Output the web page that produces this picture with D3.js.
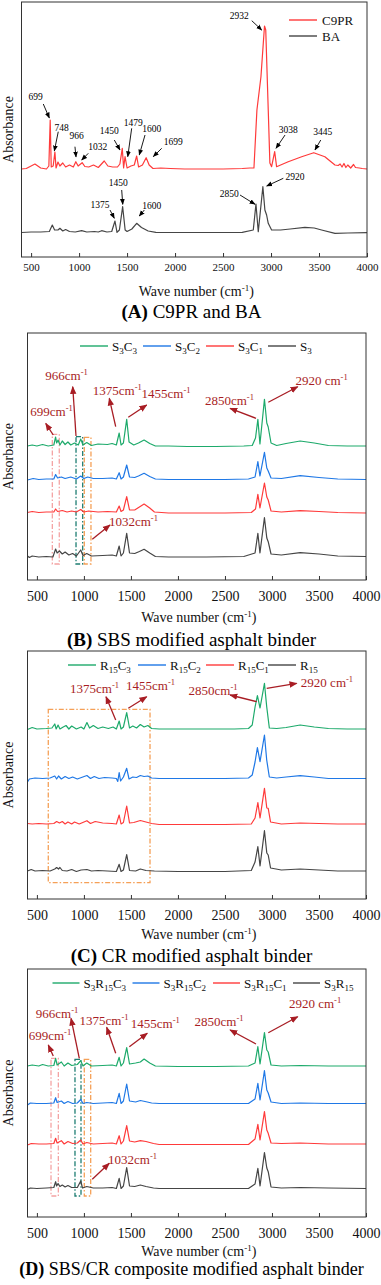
<!DOCTYPE html>
<html>
<head>
<meta charset="utf-8" />
<title>FTIR spectra</title>
<script src="https://cdn.jsdelivr.net/npm/d3@7"></script>
<style>
    html, body { margin: 0; padding: 0; background: #fff; }
    svg { display: block; }
</style>
</head>
<body>
<div id="chart"></div>
<script>
// shared x ticks (wave number, cm-1)
var waveTicks = [500, 1000, 1500, 2000, 2500, 3000, 3500, 4000];

// ---- (A) C9PR and BA : [wave number, absorbance (a.u.)]
var c9pr = [[400,0.88],[450,0.885],[540,0.93],[600,0.89],[660,0.88],[685,0.91],[699,1.37],[710,0.90],[730,0.91],[748,1.05],[760,0.89],[780,0.95],[800,0.91],[830,0.94],[860,0.90],[900,0.92],[940,0.90],[966,0.953],[990,0.91],[1032,0.943],[1060,0.905],[1100,0.90],[1150,0.92],[1200,0.895],[1262,0.96],[1300,0.91],[1350,0.90],[1400,0.90],[1425,0.93],[1450,1.087],[1464,0.89],[1479,1.003],[1500,0.89],[1540,0.91],[1575,0.92],[1600,1.01],[1620,0.90],[1660,0.92],[1699,0.993],[1730,0.92],[1770,0.885],[1850,0.89],[1950,0.885],[2100,0.88],[2300,0.88],[2500,0.88],[2700,0.885],[2780,0.89],[2822,0.89],[2853,1.47],[2895,1.803],[2932,2.31],[2945,2.27],[2971,1.47],[2988,0.94],[3006,0.903],[3038,1.053],[3058,0.903],[3100,0.92],[3179,0.953],[3319,1.003],[3445,1.043],[3561,1.003],[3666,0.92],[3700,0.915],[3720,0.93],[3740,0.90],[3760,0.935],[3780,0.895],[3800,0.92],[3830,0.89],[3860,0.925],[3880,0.895],[3920,0.89],[3950,0.885],[4000,0.88]];
var ba = [[400,0.245],[500,0.25],[600,0.25],[690,0.255],[721,0.32],[745,0.27],[780,0.27],[800,0.287],[830,0.26],[860,0.275],[900,0.255],[960,0.25],[1027,0.263],[1080,0.25],[1160,0.255],[1200,0.25],[1235,0.263],[1290,0.25],[1340,0.255],[1374,0.36],[1395,0.247],[1420,0.27],[1454,0.503],[1480,0.27],[1500,0.255],[1550,0.28],[1600,0.337],[1650,0.295],[1720,0.26],[1800,0.247],[2000,0.245],[2400,0.245],[2700,0.247],[2815,0.27],[2843,0.53],[2867,0.253],[2915,0.703],[2936,0.47],[2954,0.42],[2971,0.337],[3006,0.27],[3100,0.27],[3200,0.28],[3353,0.297],[3450,0.29],[3527,0.27],[3666,0.237],[3800,0.24],[4000,0.243]];

// ---- (B) SBS modified asphalt binder
var s3c3 = [[400,1.34],[450,1.35],[500,1.34],[560,1.355],[620,1.34],[680,1.35],[699,1.43],[710,1.37],[725,1.40],[745,1.35],[770,1.39],[800,1.355],[830,1.38],[860,1.35],[900,1.37],[940,1.35],[966,1.41],[990,1.35],[1030,1.375],[1080,1.345],[1150,1.36],[1250,1.355],[1300,1.365],[1345,1.35],[1375,1.47],[1395,1.35],[1420,1.37],[1455,1.607],[1480,1.38],[1530,1.35],[1580,1.37],[1640,1.40],[1700,1.365],[1760,1.34],[1900,1.34],[2100,1.335],[2400,1.335],[2700,1.34],[2790,1.345],[2825,1.42],[2850,1.607],[2872,1.36],[2920,1.807],[2945,1.57],[2960,1.53],[2990,1.37],[3050,1.345],[3150,1.365],[3300,1.39],[3450,1.37],[3600,1.345],[3800,1.34],[4000,1.34]];
var s3c2 = [[400,1.00],[460,1.015],[520,1.005],[600,1.01],[680,1.01],[699,1.055],[720,1.02],[760,1.03],[800,1.015],[860,1.03],[920,1.01],[966,1.04],[1000,1.015],[1040,1.03],[1100,1.015],[1200,1.015],[1300,1.02],[1345,1.01],[1375,1.073],[1395,1.01],[1420,1.03],[1455,1.15],[1485,1.03],[1540,1.025],[1580,1.04],[1640,1.067],[1700,1.035],[1760,1.01],[1900,1.005],[2200,1.005],[2500,1.005],[2750,1.01],[2820,1.03],[2850,1.183],[2872,1.04],[2920,1.277],[2945,1.12],[2960,1.09],[2990,1.02],[3100,1.015],[3300,1.043],[3500,1.025],[3700,1.01],[4000,1.005]];
var s3c1 = [[400,0.675],[450,0.685],[520,0.675],[600,0.68],[680,0.68],[699,0.71],[720,0.685],[770,0.695],[820,0.68],[870,0.69],[920,0.68],[966,0.705],[1000,0.68],[1050,0.69],[1150,0.68],[1250,0.685],[1345,0.68],[1375,0.74],[1395,0.685],[1420,0.70],[1455,0.833],[1485,0.70],[1540,0.70],[1590,0.73],[1640,0.76],[1700,0.72],[1750,0.68],[1900,0.67],[2200,0.67],[2500,0.67],[2780,0.675],[2825,0.71],[2850,0.857],[2872,0.72],[2920,0.97],[2945,0.83],[2960,0.80],[2990,0.69],[3100,0.68],[3300,0.693],[3500,0.685],[3700,0.675],[4000,0.67]];
var s3 = [[400,0.24],[420,0.225],[450,0.24],[520,0.23],[600,0.235],[670,0.23],[699,0.31],[715,0.27],[740,0.29],[770,0.26],[800,0.28],[840,0.25],[880,0.265],[920,0.24],[966,0.30],[990,0.245],[1030,0.265],[1080,0.24],[1200,0.245],[1300,0.25],[1345,0.24],[1375,0.34],[1395,0.24],[1420,0.27],[1455,0.467],[1485,0.27],[1540,0.265],[1590,0.285],[1640,0.307],[1700,0.27],[1760,0.235],[1900,0.23],[2300,0.23],[2700,0.235],[2820,0.27],[2850,0.467],[2872,0.27],[2920,0.623],[2945,0.42],[2960,0.383],[2990,0.26],[3100,0.25],[3300,0.273],[3500,0.26],[3700,0.24],[4000,0.235]];

// ---- (C) CR modified asphalt binder
var r15c3 = [[400,1.695],[450,1.715],[500,1.70],[600,1.705],[660,1.71],[690,1.75],[705,1.70],[725,1.74],[745,1.70],[780,1.72],[810,1.735],[840,1.70],[870,1.73],[920,1.70],[970,1.72],[1000,1.70],[1032,1.765],[1060,1.71],[1100,1.735],[1150,1.705],[1200,1.72],[1260,1.705],[1310,1.72],[1345,1.70],[1375,1.78],[1395,1.70],[1420,1.72],[1455,1.863],[1485,1.71],[1520,1.73],[1560,1.71],[1600,1.745],[1640,1.72],[1680,1.735],[1720,1.705],[1800,1.70],[2000,1.70],[2300,1.70],[2600,1.70],[2750,1.705],[2790,1.74],[2820,1.92],[2845,2.033],[2873,1.91],[2920,2.157],[2944,1.923],[2972,1.71],[3050,1.705],[3150,1.715],[3300,1.74],[3450,1.72],[3600,1.705],[3800,1.70],[4000,1.70]];
var r15c2 = [[400,1.17],[420,1.20],[480,1.21],[560,1.205],[640,1.21],[690,1.23],[710,1.20],[730,1.23],[760,1.20],[800,1.225],[840,1.205],[880,1.22],[930,1.20],[1032,1.235],[1070,1.205],[1110,1.225],[1160,1.205],[1220,1.215],[1300,1.21],[1345,1.205],[1360,1.175],[1375,1.263],[1390,1.18],[1420,1.22],[1455,1.307],[1480,1.20],[1520,1.22],[1560,1.215],[1600,1.235],[1640,1.225],[1680,1.23],[1720,1.21],[1800,1.205],[2100,1.205],[2500,1.205],[2750,1.21],[2790,1.24],[2820,1.37],[2845,1.513],[2873,1.373],[2920,1.64],[2944,1.39],[2972,1.22],[3050,1.21],[3150,1.22],[3300,1.233],[3450,1.22],[3600,1.205],[3800,1.205],[4000,1.205]];
var r15c1 = [[400,0.755],[450,0.75],[520,0.755],[600,0.75],[680,0.755],[710,0.775],[740,0.76],[770,0.775],[800,0.75],[830,0.77],[870,0.75],[900,0.77],[950,0.75],[1032,0.783],[1070,0.755],[1120,0.775],[1200,0.76],[1300,0.755],[1345,0.75],[1375,0.84],[1395,0.75],[1420,0.765],[1455,0.93],[1485,0.76],[1530,0.765],[1600,0.785],[1660,0.77],[1720,0.755],[1800,0.745],[2100,0.745],[2500,0.745],[2780,0.75],[2820,0.81],[2850,0.963],[2873,0.81],[2920,1.107],[2945,0.91],[2960,0.907],[2985,0.77],[3100,0.75],[3300,0.76],[3500,0.755],[3700,0.75],[4000,0.75]];
var r15 = [[400,0.28],[440,0.295],[480,0.28],[560,0.285],[640,0.28],[690,0.30],[710,0.315],[730,0.30],[745,0.315],[770,0.285],[820,0.28],[870,0.295],[920,0.275],[970,0.29],[1032,0.295],[1080,0.28],[1150,0.285],[1250,0.28],[1345,0.275],[1375,0.347],[1395,0.275],[1420,0.29],[1455,0.443],[1485,0.285],[1550,0.28],[1600,0.30],[1660,0.285],[1750,0.28],[2000,0.275],[2500,0.275],[2780,0.285],[2820,0.37],[2850,0.523],[2873,0.33],[2920,0.683],[2945,0.46],[2960,0.44],[2985,0.31],[3100,0.29],[3300,0.30],[3500,0.29],[3700,0.28],[4000,0.28]];

// ---- (D) SBS/CR composite modified asphalt binder
var s3r15c3 = [[400,1.51],[450,1.52],[520,1.51],[560,1.525],[620,1.51],[680,1.515],[699,1.587],[715,1.52],[760,1.55],[790,1.51],[830,1.54],[870,1.515],[930,1.525],[966,1.563],[990,1.51],[1030,1.54],[1080,1.51],[1200,1.515],[1300,1.52],[1345,1.51],[1375,1.597],[1395,1.51],[1420,1.54],[1455,1.693],[1485,1.53],[1550,1.54],[1600,1.55],[1640,1.58],[1700,1.54],[1760,1.51],[2000,1.505],[2400,1.505],[2750,1.51],[2820,1.54],[2850,1.703],[2873,1.53],[2920,1.843],[2945,1.67],[2960,1.65],[2990,1.52],[3100,1.51],[3300,1.515],[3600,1.51],[4000,1.51]];
var s3r15c2 = [[400,1.12],[430,1.14],[500,1.135],[600,1.135],[680,1.14],[699,1.193],[715,1.145],[760,1.16],[790,1.135],[830,1.155],[880,1.135],[930,1.14],[966,1.175],[990,1.135],[1030,1.145],[1100,1.135],[1200,1.14],[1300,1.145],[1345,1.135],[1375,1.237],[1395,1.135],[1420,1.16],[1455,1.33],[1485,1.16],[1550,1.15],[1600,1.165],[1650,1.155],[1720,1.14],[1800,1.135],[2400,1.135],[2750,1.135],[2820,1.18],[2850,1.337],[2873,1.17],[2920,1.463],[2945,1.27],[2960,1.24],[2990,1.15],[3100,1.135],[3300,1.14],[3600,1.135],[4000,1.135]];
var s3r15c1 = [[400,0.72],[440,0.735],[520,0.73],[600,0.73],[680,0.735],[699,0.787],[715,0.74],[760,0.763],[790,0.73],[830,0.755],[880,0.735],[930,0.74],[966,0.77],[990,0.73],[1030,0.745],[1100,0.73],[1200,0.735],[1300,0.74],[1345,0.73],[1375,0.813],[1395,0.73],[1420,0.76],[1455,0.913],[1485,0.76],[1540,0.75],[1600,0.763],[1660,0.755],[1740,0.735],[1800,0.725],[2400,0.725],[2750,0.725],[2820,0.78],[2850,0.927],[2873,0.77],[2920,1.053],[2945,0.87],[2960,0.837],[2990,0.74],[3100,0.735],[3300,0.74],[3600,0.73],[4000,0.73]];
var s3r15 = [[400,0.275],[430,0.29],[500,0.285],[600,0.29],[680,0.295],[699,0.353],[710,0.31],[725,0.335],[745,0.305],[770,0.32],[800,0.30],[830,0.315],[870,0.295],[930,0.295],[966,0.36],[985,0.29],[1030,0.305],[1100,0.29],[1200,0.29],[1300,0.295],[1345,0.285],[1375,0.387],[1395,0.285],[1420,0.31],[1455,0.493],[1485,0.31],[1540,0.305],[1600,0.32],[1660,0.305],[1740,0.29],[1800,0.285],[2400,0.285],[2750,0.285],[2820,0.33],[2850,0.487],[2873,0.31],[2920,0.643],[2945,0.49],[2960,0.453],[2990,0.30],[3100,0.29],[3300,0.295],[3600,0.29],[4000,0.285]];

// annotations: [label, text wn, text abs, arrow-from wn, abs, arrow-to wn, abs]
var annoA = [
    ["699", 548, 1.603, 627, 1.53, 690, 1.39],
    ["748", 819, 1.293, 783, 1.253, 742, 1.06],
    ["966", 975, 1.21, 957, 1.103, 968, 1.0],
    ["1032", 1194, 1.103, 1096, 1.037, 1027, 0.97],
    ["1450", 1315, 1.263, 1367, 1.17, 1426, 1.07],
    ["1479", 1565, 1.343, 1548, 1.287, 1507, 1.003],
    ["1600", 1757, 1.287, 1687, 1.22, 1627, 1.02],
    ["1699", 1982, 1.153, 1861, 1.087, 1773, 1.003],
    ["2932", 2669, 2.41, 2799, 2.363, 2903, 2.27],
    ["3038", 3180, 1.27, 3146, 1.22, 3052, 1.087],
    ["3445", 3539, 1.253, 3518, 1.17, 3458, 1.07],
    ["1375", 1218, 0.527, 1322, 0.47, 1367, 0.387],
    ["1450", 1409, 0.747, 1444, 0.67, 1455, 0.527],
    ["1600", 1757, 0.51, 1680, 0.47, 1627, 0.41],
    ["2850", 2565, 0.637, 2677, 0.62, 2833, 0.527],
    ["2920", 3250, 0.803, 3128, 0.787, 2955, 0.71]
];
var annoB = [
    ["966cm-1", 815, 2.05, 916, 1.44, 881, 1.933],
    ["699cm-1", 655, 1.683, 674, 1.45, 594, 1.567],
    ["1375cm-1", 1355, 1.90, 1338, 1.533, 1270, 1.817],
    ["1455cm-1", 1873, 1.867, 1472, 1.627, 1668, 1.75],
    ["2850cm-1", 2548, 1.80, 2830, 1.617, 2554, 1.717],
    ["2920 cm-1", 3527, 2.00, 2961, 1.777, 3274, 1.933],
    ["1032cm-1", 1527, 0.583, 1089, 0.407, 1277, 0.55]
];
var annoC = [
    ["1375cm-1", 1113, 2.107, 1338, 1.79, 1235, 2.023],
    ["1455cm-1", 1708, 2.14, 1472, 1.907, 1668, 2.023],
    ["2850cm-1", 2373, 2.09, 2838, 1.973, 2554, 2.04],
    ["2920 cm-1", 3585, 2.163, 2944, 2.107, 3263, 2.157]
];
var annoD = [
    ["966cm-1", 714, 2.037, 951, 1.587, 863, 1.987],
    ["699cm-1", 639, 1.82, 674, 1.61, 621, 1.72],
    ["1375cm-1", 1214, 1.97, 1338, 1.637, 1242, 1.897],
    ["1455cm-1", 1759, 1.937, 1483, 1.703, 1674, 1.837],
    ["2850cm-1", 2437, 1.953, 2830, 1.73, 2554, 1.87],
    ["2920 cm-1", 3458, 2.137, 2961, 1.843, 3274, 2.003],
    ["1032cm-1", 1517, 0.577, 1089, 0.377, 1270, 0.537]
];

// highlighted bands: [wn from, wn to, abs top, abs bottom, colour key]
var bandsB = [[664, 738, 1.457, 0.16, "pink"], [916, 987, 1.433, 0.16, "teal"], [1004, 1075, 1.427, 0.16, "orange"]];
var bandsC = [[621, 1703, 1.897, 0.163, "orange"]];
var bandsD = [[650, 728, 1.587, 0.21, "pink"], [905, 969, 1.577, 0.21, "teal"], [1004, 1072, 1.577, 0.21, "orange"]];

var colors = {
    red: "#ff3a3a", gray: "#454545", green: "#1daa6b", blue: "#1f78e6",
    note: "#a81d24", pink: "#f4a3a3", teal: "#1d7d72", orange: "#f5a057"
};

var serif = "'Liberation Serif', 'Times New Roman', Times, serif";
var W = 381, H = 1285;
var svg = d3.select("#chart").append("svg")
    .attr("width", W).attr("height", H)
    .attr("font-family", serif);
var defs = svg.append("defs");

function addMarker(id, color, size) {
    defs.append("marker")
        .attr("id", id)
        .attr("viewBox", "0 0 10 10")
        .attr("refX", 9).attr("refY", 5)
        .attr("markerWidth", size).attr("markerHeight", size)
        .attr("markerUnits", "userSpaceOnUse")
        .attr("orient", "auto")
        .append("path")
        .attr("d", "M0,1 L10,5 L0,9 Z")
        .attr("fill", color);
}
addMarker("headBlack", "#000", 6);
addMarker("headRed", colors.note, 8);

// text with "-1" as superscript
function supText(t, str, supSize, shift) {
    var m = str.match(/^(.*?)(-1)(.*)$/);
    if (!m) { t.text(str); return; }
    t.append("tspan").text(m[1]);
    t.append("tspan").attr("dy", -shift).attr("font-size", supSize).text(m[2]);
    if (m[3]) t.append("tspan").attr("dy", shift).text(m[3]);
}

// legend names like S3R15C1 -> digits as subscripts
function subText(t, str) {
    var parts = str.match(/[A-Za-z]+|\d+/g);
    var down = false;
    parts.forEach(function(s) {
        if (/^\d+$/.test(s)) {
            t.append("tspan").attr("dy", down ? 0 : 3).attr("font-size", 9).text(s);
            down = true;
        } else {
            t.append("tspan").attr("dy", down ? -3 : 0).text(s);
            down = false;
        }
    });
}

var panels = [
    {
        left: 21.5, right: 367, top: 2, bottom: 257,
        series: [["C9PR", c9pr, colors.red], ["BA", ba, colors.gray]],
        legend: "column", legendX: 289, legendY: 20, legendGap: 16, legendLen: 28,
        notes: annoA, noteSize: 9.5, noteColor: "#000", marker: "headBlack",
        bands: [],
        tickSize: 11, tickPad: 6.5, axisTitleY: 295.5, titleY: 318, titleSize: 19, title: ["(A)", " C9PR and BA"]
    },
    {
        left: 27.5, right: 366, top: 333, bottom: 580,
        series: [["S3C3", s3c3, colors.green], ["S3C2", s3c2, colors.blue], ["S3C1", s3c1, colors.red], ["S3", s3, colors.gray]],
        legend: "row", legendXs: [80, 143, 206, 268], legendY: 346, legendLen: 28,
        notes: annoB, noteSize: 13, noteColor: colors.note, marker: "headRed",
        bands: bandsB,
        tickSize: 14, tickPad: 11.5, axisTitleY: 621.5, titleY: 645.5, titleSize: 19, title: ["(B)", " SBS modified asphalt binder"]
    },
    {
        left: 27.5, right: 366, top: 651, bottom: 899,
        series: [["R15C3", r15c3, colors.green], ["R15C2", r15c2, colors.blue], ["R15C1", r15c1, colors.red], ["R15", r15, colors.gray]],
        legend: "row", legendXs: [68, 138, 206, 268], legendY: 665, legendLen: 28,
        notes: annoC, noteSize: 13, noteColor: colors.note, marker: "headRed",
        bands: bandsC,
        tickSize: 14, tickPad: 11.5, axisTitleY: 939, titleY: 961.5, titleSize: 19, title: ["(C)", " CR modified asphalt binder"]
    },
    {
        left: 27.5, right: 366, top: 969, bottom: 1217,
        series: [["S3R15C3", s3r15c3, colors.green], ["S3R15C2", s3r15c2, colors.blue], ["S3R15C1", s3r15c1, colors.red], ["S3R15", s3r15, colors.gray]],
        legend: "row", legendXs: [52.5, 132.5, 213, 293], legendY: 983, legendLen: 27,
        notes: annoD, noteSize: 13, noteColor: colors.note, marker: "headRed",
        bands: bandsD,
        tickSize: 14, tickPad: 11, axisTitleY: 1255.5, titleY: 1275, titleSize: 18, title: ["(D)", " SBS/CR composite modified asphalt binder"]
    }
];

panels.forEach(function(p) {
    var x = d3.scaleLinear().domain([400, 4000]).range([p.left, p.right]);
    var y = d3.scaleLinear().domain([0, (p.bottom - p.top) / 100]).range([p.bottom, p.top]);
    var g = svg.append("g");

    // dash-dot bands
    g.selectAll("rect.band")
        .data(p.bands)
        .enter().append("rect")
        .attr("class", "band")
        .attr("x", function(d) { return x(d[0]); })
        .attr("y", function(d) { return y(d[2]); })
        .attr("width", function(d) { return x(d[1]) - x(d[0]); })
        .attr("height", function(d) { return y(d[3]) - y(d[2]); })
        .attr("fill", "none")
        .attr("stroke", function(d) { return colors[d[4]]; })
        .attr("stroke-width", 1.3)
        .attr("stroke-dasharray", "5,2,1.5,2");

    // spectra
    var line = d3.line()
        .x(function(d) { return x(d[0]); })
        .y(function(d) { return y(d[1]); });
    g.selectAll("path.spec")
        .data(p.series)
        .enter().append("path")
        .attr("class", "spec")
        .attr("d", function(d) { return line(d[1]); })
        .attr("fill", "none")
        .attr("stroke", function(d) { return d[2]; })
        .attr("stroke-width", 1.2)
        .attr("stroke-linejoin", "round");

    // frame
    g.append("rect")
        .attr("x", p.left).attr("y", p.top)
        .attr("width", p.right - p.left).attr("height", p.bottom - p.top)
        .attr("fill", "none").attr("stroke", "#333").attr("stroke-width", 1);

    // bottom axis, ticks pointing in
    var ax = g.append("g")
        .attr("transform", "translate(0," + p.bottom + ")")
        .call(d3.axisBottom(x)
            .tickValues(waveTicks)
            .tickFormat(d3.format("d"))
            .tickSizeInner(-4).tickSizeOuter(0)
            .tickPadding(p.tickPad));
    ax.select(".domain").remove();
    ax.attr("font-family", serif).attr("font-size", p.tickSize);
    ax.selectAll("line").attr("stroke", "#333");
    ax.selectAll("text").attr("fill", "#111");

    // axis titles
    var xt = g.append("text")
        .attr("x", (p.left + p.right) / 2 + 2).attr("y", p.axisTitleY)
        .attr("text-anchor", "middle").attr("font-size", 14).attr("fill", "#111");
    supText(xt, "Wave number (cm-1)", 9, 5);

    g.append("text")
        .attr("transform", "translate(13," + (p.top + p.bottom) / 2 + ") rotate(-90)")
        .attr("text-anchor", "middle").attr("font-size", 14).attr("fill", "#111")
        .text("Absorbance");

    // panel caption
    var cap = g.append("text")
        .attr("x", W / 2 + 1).attr("y", p.titleY)
        .attr("text-anchor", "middle").attr("font-size", p.titleSize).attr("fill", "#000");
    cap.append("tspan").attr("font-weight", "bold").text(p.title[0]);
    cap.append("tspan").text(p.title[1]);

    // legend
    if (p.legend === "column") {
        p.series.forEach(function(s, i) {
            var ly = p.legendY + i * p.legendGap;
            g.append("line")
                .attr("x1", p.legendX).attr("x2", p.legendX + p.legendLen)
                .attr("y1", ly).attr("y2", ly)
                .attr("stroke", s[2]).attr("stroke-width", 1.4);
            g.append("text")
                .attr("x", p.legendX + p.legendLen + 5).attr("y", ly + 4.5)
                .attr("font-size", 13).attr("fill", "#111")
                .text(s[0]);
        });
    } else {
        p.series.forEach(function(s, i) {
            var lx = p.legendXs[i];
            g.append("line")
                .attr("x1", lx).attr("x2", lx + p.legendLen)
                .attr("y1", p.legendY).attr("y2", p.legendY)
                .attr("stroke", s[2]).attr("stroke-width", 1.4);
            var t = g.append("text")
                .attr("x", lx + p.legendLen + 4).attr("y", p.legendY + 4.5)
                .attr("font-size", 13).attr("fill", "#111");
            subText(t, s[0]);
        });
    }

    // annotations
    p.notes.forEach(function(n) {
        g.append("line")
            .attr("x1", x(n[3])).attr("y1", y(n[4]))
            .attr("x2", x(n[5])).attr("y2", y(n[6]))
            .attr("stroke", p.noteColor)
            .attr("stroke-width", p.noteColor === "#000" ? 0.9 : 1.3)
            .attr("marker-end", "url(#" + p.marker + ")");
        var t = g.append("text")
            .attr("x", x(n[1])).attr("y", y(n[2]))
            .attr("dy", "0.35em")
            .attr("text-anchor", "middle")
            .attr("font-size", p.noteSize)
            .attr("fill", p.noteColor);
        supText(t, n[0], 8.5, 5);
    });
});
</script>
</body>
</html>
